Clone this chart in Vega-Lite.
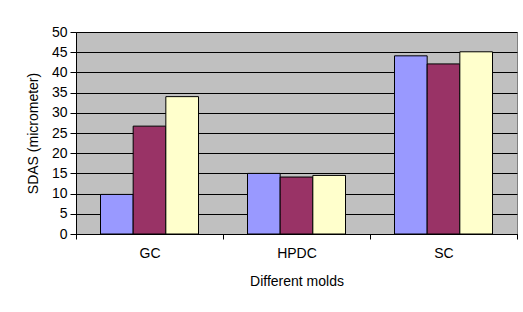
{
  "$schema": "https://vega.github.io/schema/vega-lite/v6.json",
  "width": 441,
  "height": 202,
  "autosize": "none",
  "padding": {"left": 76, "top": 32, "right": 6, "bottom": 78},
  "background": "white",
  "config": {
    "font": "Liberation Sans",
    "view": {"fill": "#C0C0C0", "stroke": "#808080", "strokeWidth": 1},
    "axis": {
      "labelFont": "Liberation Sans",
      "titleFont": "Liberation Sans",
      "labelFontSize": 14,
      "titleFontSize": 14,
      "labelColor": "#000000",
      "titleColor": "#000000",
      "titleFontWeight": "normal",
      "domainColor": "#000000",
      "tickColor": "#000000",
      "domainWidth": 1,
      "tickWidth": 1
    }
  },
  "data": {
    "values": [
      {"mold": "GC", "series": "Series 1", "value": 9.8},
      {"mold": "GC", "series": "Series 2", "value": 26.7},
      {"mold": "GC", "series": "Series 3", "value": 34.0},
      {"mold": "HPDC", "series": "Series 1", "value": 15.0},
      {"mold": "HPDC", "series": "Series 2", "value": 14.1},
      {"mold": "HPDC", "series": "Series 3", "value": 14.5},
      {"mold": "SC", "series": "Series 1", "value": 44.1},
      {"mold": "SC", "series": "Series 2", "value": 42.1},
      {"mold": "SC", "series": "Series 3", "value": 45.1}
    ]
  },
  "mark": {"type": "bar", "stroke": "#000000", "strokeWidth": 1},
  "encoding": {
    "x": {
      "field": "mold",
      "type": "nominal",
      "sort": ["GC", "HPDC", "SC"],
      "scale": {"paddingInner": 0, "paddingOuter": 0},
      "axis": {
        "title": "Different molds",
        "labelAngle": 0,
        "tickBand": "extent",
        "tickSize": 5,
        "labelPadding": 7,
        "titlePadding": 14,
        "grid": false
      }
    },
    "xOffset": {
      "field": "series",
      "type": "nominal",
      "scale": {"paddingInner": 0, "paddingOuter": 0.75}
    },
    "y": {
      "field": "value",
      "type": "quantitative",
      "scale": {"domain": [0, 50], "nice": false},
      "axis": {
        "title": "SDAS (micrometer)",
        "values": [0, 5, 10, 15, 20, 25, 30, 35, 40, 45, 50],
        "tickSize": 6,
        "labelPadding": 3,
        "titlePadding": 11,
        "grid": true,
        "gridColor": "#000000",
        "gridWidth": 1,
        "gridOpacity": 1
      }
    },
    "fill": {
      "field": "series",
      "type": "nominal",
      "scale": {"domain": ["Series 1", "Series 2", "Series 3"], "range": ["#9999FF", "#993366", "#FFFFCC"]},
      "legend": null
    }
  }
}
